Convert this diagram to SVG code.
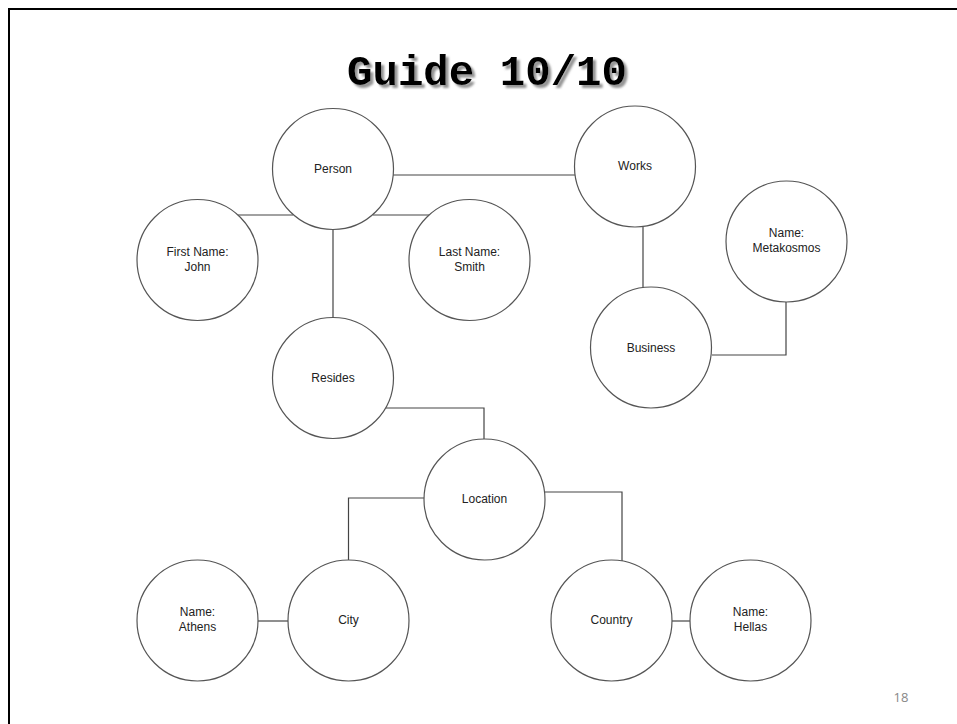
<svg xmlns="http://www.w3.org/2000/svg" width="957" height="724" viewBox="0 0 957 724">
<style>
.n circle{fill:#fff;stroke:#555;stroke-width:1.2}
.n text{font-family:"Liberation Sans",Arial,sans-serif;font-size:12px;fill:#222;text-anchor:middle}
#connectors path{fill:none;stroke:#444;stroke-width:1.2}
.title{font-family:"Liberation Mono","Courier New",monospace;font-weight:bold;font-size:42px;text-anchor:middle}
</style>
<defs>
<filter id="shadow" x="-10%" y="-20%" width="120%" height="150%">
<feDropShadow dx="3" dy="3" stdDeviation="0.8" flood-color="#888" flood-opacity="0.9"/>
</filter>
</defs>
<rect width="957" height="724" fill="#fff"/>
<path d="M9,724 V9 H957" fill="none" stroke="#000" stroke-width="2"/>
<text class="title" x="487" y="85" fill="#000" textLength="280" lengthAdjust="spacingAndGlyphs" filter="url(#shadow)">Guide 10/10</text>
<g id="connectors">
<path d="M238,215 H293"/>
<path d="M373,215 H430"/>
<path d="M393,175 H575"/>
<path d="M333,230 V318"/>
<path d="M643,227 V288"/>
<path d="M712,355 H786 V302"/>
<path d="M386,408 H484 V439"/>
<path d="M424,498 H348.5 V560"/>
<path d="M545,492 H622 V561"/>
<path d="M258,621 H288"/>
<path d="M672,621 H690"/>
</g>
<g id="person" class="n"><circle cx="333" cy="169" r="60.5"/><text x="333" y="173">Person</text></g>
<g id="firstname" class="n"><circle cx="197.5" cy="260" r="60.5"/><text x="197.5" y="256">First Name:</text><text x="197.5" y="271">John</text></g>
<g id="lastname" class="n"><circle cx="469.5" cy="260" r="60.5"/><text x="469.5" y="256">Last Name:</text><text x="469.5" y="271">Smith</text></g>
<g id="works" class="n"><circle cx="635" cy="166.5" r="60.5"/><text x="635" y="170">Works</text></g>
<g id="business" class="n"><circle cx="651" cy="347.5" r="60.5"/><text x="651" y="352">Business</text></g>
<g id="bizname" class="n"><circle cx="786.5" cy="241.5" r="60.5"/><text x="786.5" y="237">Name:</text><text x="786.5" y="252">Metakosmos</text></g>
<g id="resides" class="n"><circle cx="333" cy="378" r="60.5"/><text x="333" y="382">Resides</text></g>
<g id="location" class="n"><circle cx="484.5" cy="499.5" r="60.5"/><text x="484.5" y="503">Location</text></g>
<g id="cityname" class="n"><circle cx="197.5" cy="620.5" r="60.5"/><text x="197.5" y="616">Name:</text><text x="197.5" y="631">Athens</text></g>
<g id="city" class="n"><circle cx="348.5" cy="620.5" r="60.5"/><text x="348.5" y="624">City</text></g>
<g id="country" class="n"><circle cx="611.5" cy="620.5" r="60.5"/><text x="611.5" y="624">Country</text></g>
<g id="countryname" class="n"><circle cx="750.5" cy="620.5" r="60.5"/><text x="750.5" y="616">Name:</text><text x="750.5" y="631">Hellas</text></g>
<text x="901" y="702" font-family="'Open Sans','Liberation Sans',sans-serif" font-size="13" fill="#888" text-anchor="middle">18</text>
</svg>
